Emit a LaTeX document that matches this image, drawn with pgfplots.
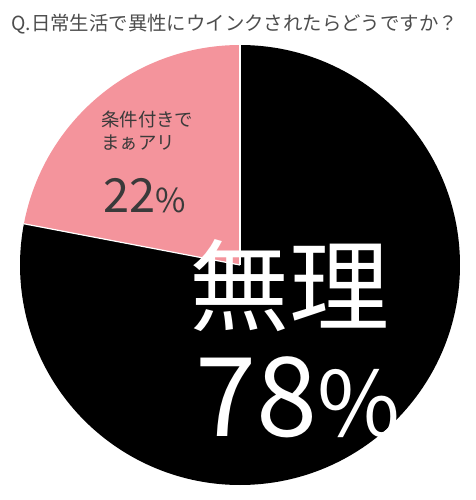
\documentclass[border=0pt]{standalone}
\usepackage{fontspec}
\setmainfont{Noto Sans CJK JP}
\usepackage{pgfplots}
\usepackage{pgfplotstable}
\pgfplotsset{compat=1.18}
\definecolor{piepink}{RGB}{244,148,156}
\definecolor{labelgrey}{RGB}{58,58,58}
\definecolor{titlegrey}{RGB}{77,77,77}

% share of answers, percent
\pgfplotstableread{
value
78
22
}\piedata

\begin{document}
\begin{tikzpicture}
\pgfplotstablegetelem{0}{value}\of\piedata \let\vmuri\pgfplotsretval
\pgfplotstablegetelem{1}{value}\of\piedata \let\vari\pgfplotsretval
\pgfmathsetmacro\endmuri{90-3.6*\vmuri}
\pgfmathsetmacro\endari{90+3.6*\vari}
\begin{axis}[
	hide axis,
	scale only axis,
	width=238pt, height=250pt,
	xmin=0, xmax=476, ymin=0, ymax=500,
	clip=false
	]
	% slices, center (240,235), radius 220 units = 110pt
	\fill[black] (axis cs:240,235) -- ++(90:110pt)
		arc[start angle=90, end angle=\endmuri, radius=110pt] -- cycle;
	\fill[piepink] (axis cs:240,235) -- ++(90:110pt)
		arc[start angle=90, end angle=\endari, radius=110pt] -- cycle;
	\draw[white, line width=0.6pt] (axis cs:240,235) -- ++(90:110pt);
	\draw[white, line width=0.6pt] (axis cs:240,235) -- ++(\endari:110pt);

	\node[anchor=west, inner sep=0pt, text=titlegrey,
		font=\fontsize{9.7pt}{11pt}\selectfont] at (axis cs:11,476)
		{Q.日常生活で異性にウインクされたらどうですか？};

	\node[anchor=north west, inner sep=0pt, align=left, text=labelgrey,
		font=\fontsize{9.2pt}{11.3pt}\selectfont] at (axis cs:101,389)
		{条件付きで\\まぁアリ};
	\node[anchor=base west, inner sep=0pt, text=labelgrey] at (axis cs:103,288)
		{\fontsize{23.5pt}{26pt}\selectfont\vari\fontsize{16.5pt}{18pt}\selectfont\%};

	\node[anchor=center, inner sep=0pt, text=white,
		font=\fontsize{50pt}{55pt}\selectfont] at (axis cs:290,214) {無理};
	\node[anchor=base west, inner sep=0pt, text=white] at (axis cs:195,63)
		{\fontsize{55pt}{60pt}\selectfont\vmuri\fontsize{45pt}{50pt}\selectfont\%};
\end{axis}
\pgfresetboundingbox
\path (0,0) rectangle (238pt,250pt);
\end{tikzpicture}
\end{document}
